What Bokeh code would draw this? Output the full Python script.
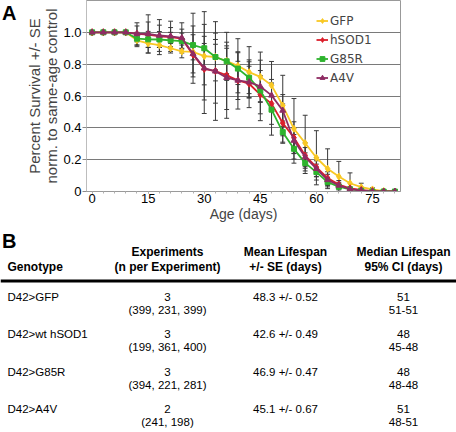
from bokeh.plotting import figure
from bokeh.models import FixedTicker, Legend, LegendItem, Range1d
from bokeh.layouts import column, row
from bokeh.core.properties import value
from bokeh.embed import file_html
from bokeh.resources import INLINE

# ---------------- data ----------------
days = list(range(0, 82, 3))
gfp = [1, 1, 1, 1, 0.95, 0.93, 0.92, 0.90, 0.88, 0.877, 0.85, 0.845, 0.82, 0.79, 0.75, 0.72,
       0.667, 0.54, 0.394, 0.304, 0.212, 0.143, 0.094, 0.052, 0.027, 0.013, 0.003, 0]
hsod1 = [1, 1, 1, 1, 0.99, 0.985, 0.975, 0.97, 0.96, 0.86, 0.77, 0.757, 0.73, 0.698, 0.677, 0.608,
         0.552, 0.43, 0.338, 0.226, 0.153, 0.084, 0.044, 0.02, 0.01, 0.003, 0, 0]
g85r = [1, 1, 1, 1, 0.96, 0.956, 0.955, 0.95, 0.945, 0.92, 0.90, 0.845, 0.818, 0.772, 0.715, 0.635,
        0.514, 0.373, 0.268, 0.178, 0.122, 0.059, 0.03, 0.013, 0.005, 0, 0, 0]
a4v = [1, 1, 1, 1, 0.99, 0.99, 0.98, 0.975, 0.965, 0.865, 0.775, 0.755, 0.715, 0.698, 0.687, 0.66,
       0.604, 0.509, 0.32, 0.216, 0.143, 0.073, 0.038, 0.015, 0.006, 0, 0, 0]

gfp_se = [0, 0, 0, 0, 0.04, 0.06, 0.06, 0.03, 0.04, 0.05, 0.08, 0.08, 0.08, 0.17, 0.16, 0.156,
          0.15, 0.19, 0.19, 0.175, 0.17, 0.125, 0.095, 0.065, 0.025, 0.01, 0, 0]
hsod1_se = [0, 0, 0, 0, 0.05, 0.08, 0.07, 0.06, 0.06, 0.18, 0.28, 0.31, 0.27, 0.18, 0.15, 0.12,
            0.13, 0.12, 0.10, 0.08, 0.06, 0.04, 0.025, 0.01, 0.005, 0, 0, 0]
g85r_se = [0, 0, 0, 0, 0.04, 0.05, 0.05, 0.05, 0.05, 0.20, 0.23, 0.15, 0.12, 0.10, 0.10, 0.19,
           0.16, 0.07, 0.09, 0.065, 0.05, 0.03, 0.02, 0.01, 0.005, 0, 0, 0]
a4v_se = [0, 0, 0, 0, 0.07, 0.12, 0.10, 0.095, 0.095, 0.12, 0.20, 0.20, 0.20, 0.12, 0.10, 0.10,
          0.10, 0.10, 0.08, 0.06, 0.05, 0.035, 0.02, 0.01, 0.005, 0, 0, 0]

series_names = ["GFP", "hSOD1", "G85R", "A4V"]
x_ticks = [0, 15, 30, 45, 60, 75]
y_ticks = [0, 0.2, 0.4, 0.6, 0.8, 1.0]
y_tick_labels = ["0", "0.2", "0.4", "0.6", "0.8", "1.0"]

genotypes = ["D42>GFP", "D42>wt hSOD1", "D42>G85R", "D42>A4V"]
n_experiments = [3, 3, 3, 2]
n_per_experiment = ["(399, 231, 399)", "(199, 361, 400)", "(394, 221, 281)", "(241, 198)"]
mean_lifespan = [48.3, 42.6, 46.9, 45.1]
mean_se = [0.52, 0.49, 0.47, 0.67]
median_lifespan = [51, 48, 48, 51]
median_ci = ["51-51", "45-48", "48-48", "48-51"]

# ---------------- styles ----------------
FONT = "Liberation Sans"
colors = ["#F9C824", "#DC1F2B", "#2DB32D", "#8F2C63"]
markers = ["diamond", "diamond", "square", "triangle"]
msizes = [7, 7, 5, 6]

W = 456
H = 432
WA = 20          # width of the strip holding the panel letter "A"
H1 = 231         # height of the chart part
H2 = H - H1      # height of the table part


def no_align(f):
    if "frame_align" in f.properties():
        f.frame_align = False


# ---------------- "A" panel letter ----------------
fa = figure(width=WA, height=H1, x_range=Range1d(0, WA), y_range=Range1d(H1, 0),
            output_backend="svg", toolbar_location=None, min_border=0,
            x_axis_location=None, y_axis_location=None)
fa.grid.visible = False
fa.outline_line_color = None
fa.text(x=[1.5], y=[1.5], text=["A"], text_font=value(FONT), text_font_size="20px",
        text_font_style="bold", text_align="left", text_baseline="top")
no_align(fa)

# ---------------- chart (A) ----------------
p = figure(width=W - WA, height=H1, x_range=Range1d(-1.5, 82.5), y_range=Range1d(0, 1.2),
           output_backend="svg", toolbar_location=None,
           min_border_left=86 - WA, min_border_right=56, min_border_top=0, min_border_bottom=40)
no_align(p)
p.background_fill_color = "white"
p.border_fill_color = "white"
p.outline_line_color = "#999999"

p.xgrid.visible = False
p.ygrid.ticker = FixedTicker(ticks=y_ticks[1:])
p.ygrid.grid_line_color = "#7a7a7a"
p.ygrid.grid_line_width = 1

p.yaxis.ticker = FixedTicker(ticks=y_ticks)
p.yaxis.major_label_overrides = {t: lab for t, lab in zip(y_ticks, y_tick_labels)}
p.yaxis.major_tick_line_color = "#8a8a8a"
p.yaxis.major_tick_in = 0
p.yaxis.major_tick_out = 4
p.yaxis.minor_tick_line_color = None
p.yaxis.axis_line_color = "#bdbdbd"
p.yaxis.major_label_text_font = FONT
p.yaxis.major_label_text_font_size = "13px"
p.yaxis.major_label_text_color = "black"
p.yaxis.major_label_standoff = 1
p.yaxis.axis_label = "Percent Survival +/- SE\nnorm. to same-age control"
p.yaxis.axis_label_text_font = FONT
p.yaxis.axis_label_text_font_size = "15px"
p.yaxis.axis_label_text_font_style = "normal"
p.yaxis.axis_label_text_align = "left"
p.yaxis.axis_label_text_line_height = 1.0
p.yaxis.axis_label_standoff = 0

p.xaxis.ticker = FixedTicker(ticks=x_ticks, minor_ticks=days)
p.xaxis.axis_line_color = "#9a9a9a"
p.xaxis.major_tick_line_color = "#9a9a9a"
p.xaxis.minor_tick_line_color = "#b0b0b0"
p.xaxis.major_tick_in = 0
p.xaxis.major_tick_out = 2
p.xaxis.minor_tick_in = 0
p.xaxis.minor_tick_out = 2
p.xaxis.major_label_text_font = FONT
p.xaxis.major_label_text_font_size = "13px"
p.xaxis.major_label_text_color = "black"
p.xaxis.major_label_standoff = 0
p.xaxis.axis_label = "Age (days)"
p.xaxis.axis_label_text_font = FONT
p.xaxis.axis_label_text_font_size = "14px"
p.xaxis.axis_label_text_font_style = "normal"
p.xaxis.axis_label_standoff = 0

all_vals = [gfp, hsod1, g85r, a4v]
all_se = [gfp_se, hsod1_se, g85r_se, a4v_se]

# error bars (drawn first, under the lines)
cap = 0.65
for vals, se in zip(all_vals, all_se):
    xs = [d for d, e in zip(days, se) if e > 0]
    hi = [v + e for v, e in zip(vals, se) if e > 0]
    lo = [v - e for v, e in zip(vals, se) if e > 0]
    p.segment(x0=xs, y0=lo, x1=xs, y1=hi, line_color="#3a3a3a", line_width=1)
    p.segment(x0=[x - cap for x in xs], y0=hi, x1=[x + cap for x in xs], y1=hi,
              line_color="#3a3a3a", line_width=1)
    p.segment(x0=[x - cap for x in xs], y0=lo, x1=[x + cap for x in xs], y1=lo,
              line_color="#3a3a3a", line_width=1)

items = []
for name, vals, c, m, s in zip(series_names, all_vals, colors, markers, msizes):
    lr = p.line(days, vals, line_color=c, line_width=1.8)
    sr = p.scatter(days, vals, marker=m, size=s, fill_color=c, line_color=c)
    items.append(LegendItem(label=name, renderers=[lr, sr]))

legend = Legend(items=items, location=(230, 105))
legend.background_fill_alpha = 0
legend.border_line_alpha = 0
legend.padding = 0
legend.margin = 0
legend.spacing = 2
legend.glyph_width = 12
legend.glyph_height = 17
legend.label_height = 17
legend.label_standoff = 2
legend.label_text_font = "DejaVu Sans"
legend.label_text_font_size = "12px"
p.add_layout(legend)

# ---------------- table (B) ----------------
t = figure(width=W, height=H2, x_range=Range1d(0, W), y_range=Range1d(H, H1),
           output_backend="svg", toolbar_location=None, min_border=0,
           x_axis_location=None, y_axis_location=None)
no_align(t)
t.grid.visible = False
t.outline_line_color = None
t.background_fill_color = "white"
t.border_fill_color = "white"

col_x = [7, 167, 285, 403]
hdr1_y, hdr2_y, rule_y = 251.5, 266, 280.5
row_y = [296, 333.5, 371, 408.5]
row_dy = 13
HF = "12px"
BF = "11.5px"

t.text(x=[1.5], y=[240], text=["B"], text_font=value(FONT), text_font_size="20px",
       text_font_style="bold", text_align="left", text_baseline="middle")

t.text(x=col_x[1:], y=[hdr1_y] * 3, text=["Experiments", "Mean Lifespan", "Median Lifespan"],
       text_font=value(FONT), text_font_size=HF, text_font_style="bold",
       text_align="center", text_baseline="middle")
t.text(x=col_x[1:], y=[hdr2_y] * 3, text=["(n per Experiment)", "+/- SE (days)", "95% CI (days)"],
       text_font=value(FONT), text_font_size=HF, text_font_style="bold",
       text_align="center", text_baseline="middle")
t.text(x=[col_x[0]], y=[hdr2_y], text=["Genotype"],
       text_font=value(FONT), text_font_size=HF, text_font_style="bold",
       text_align="left", text_baseline="middle")
t.quad(left=[0], right=[W], top=[rule_y - 1.5], bottom=[rule_y + 1.5],
       fill_color="black", line_color=None)

t.text(x=[col_x[0]] * 4, y=row_y, text=genotypes, text_font=value(FONT), text_font_size=BF,
       text_align="left", text_baseline="middle")
t.text(x=[col_x[1]] * 4, y=row_y, text=[str(n) for n in n_experiments], text_font=value(FONT),
       text_font_size=BF, text_align="center", text_baseline="middle")
t.text(x=[col_x[1]] * 4, y=[y + row_dy for y in row_y], text=n_per_experiment, text_font=value(FONT),
       text_font_size=BF, text_align="center", text_baseline="middle")
t.text(x=[col_x[2]] * 4, y=row_y, text=[f"{m} +/- {s}" for m, s in zip(mean_lifespan, mean_se)],
       text_font=value(FONT), text_font_size=BF, text_align="center", text_baseline="middle")
t.text(x=[col_x[3]] * 4, y=row_y, text=[str(m) for m in median_lifespan], text_font=value(FONT),
       text_font_size=BF, text_align="center", text_baseline="middle")
t.text(x=[col_x[3]] * 4, y=[y + row_dy for y in row_y], text=median_ci, text_font=value(FONT),
       text_font_size=BF, text_align="center", text_baseline="middle")

layout = column(row(fa, p, spacing=0), t, spacing=0)
open("out.html", "w").write(file_html(layout, INLINE))
